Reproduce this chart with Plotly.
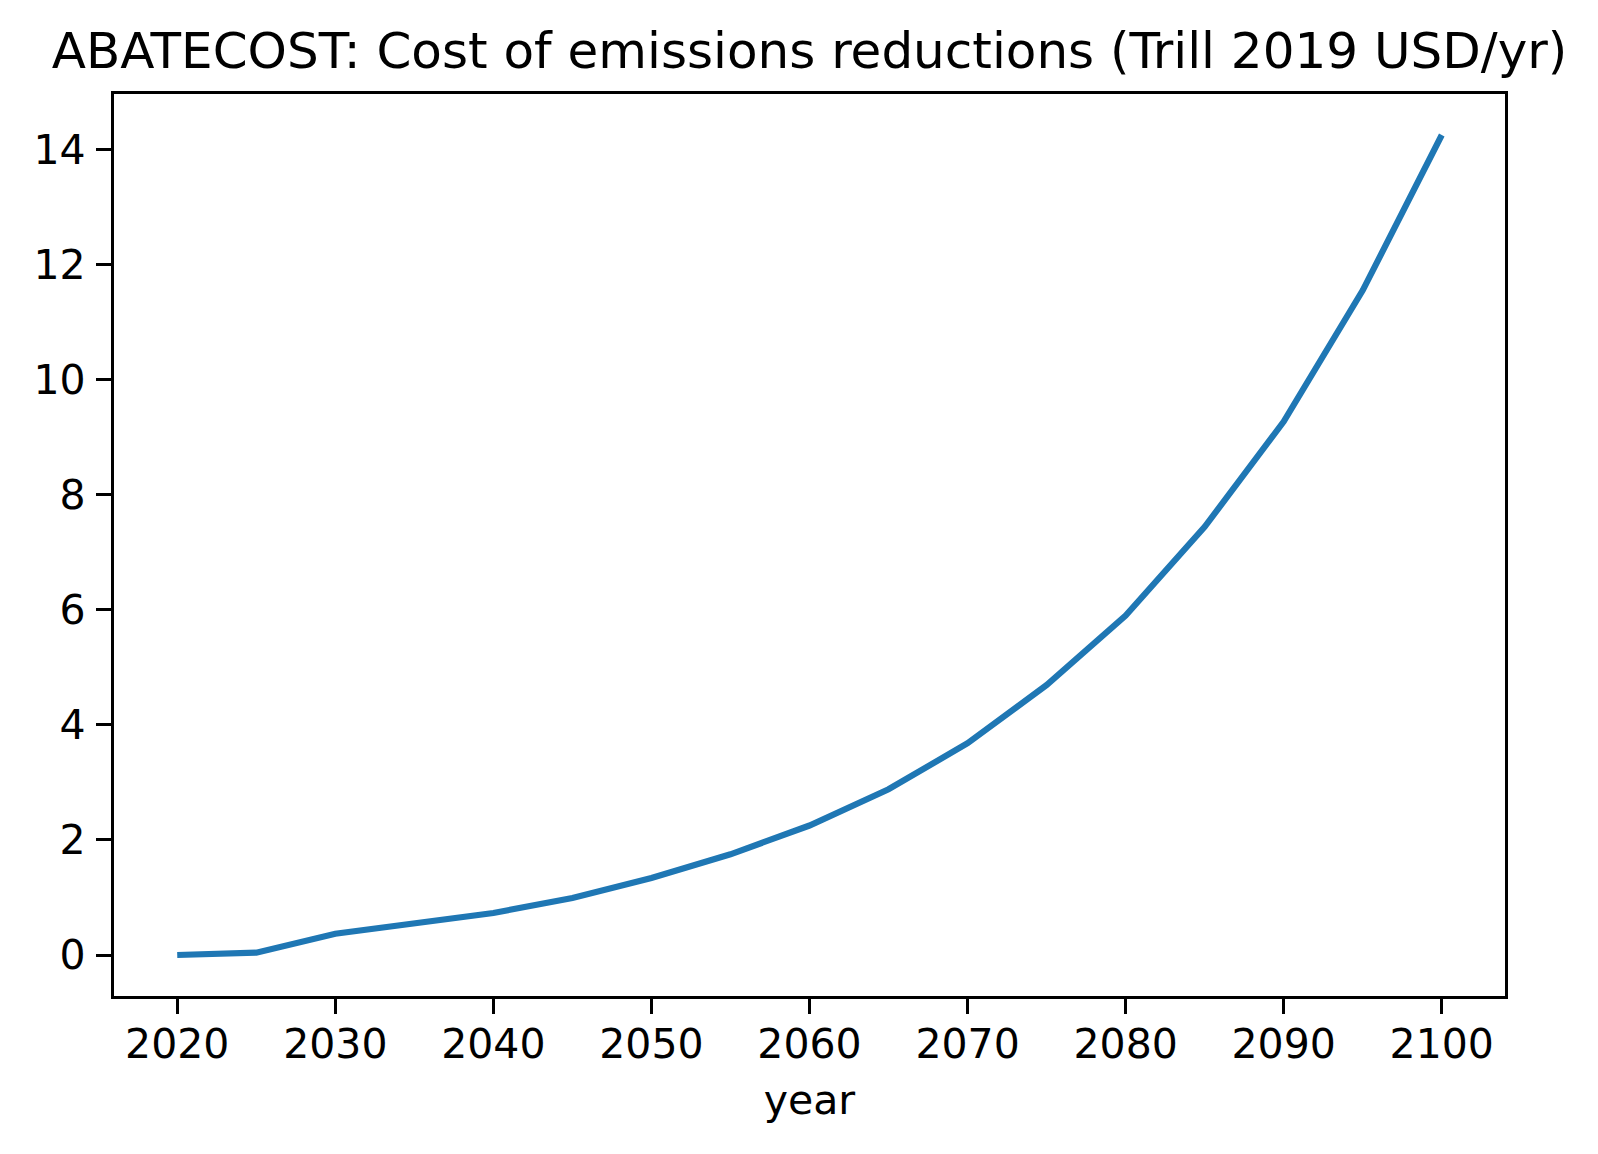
import plotly.graph_objects as go

# ABATECOST values
years = [2020, 2025, 2030, 2035, 2040, 2045, 2050, 2055, 2060,
         2065, 2070, 2075, 2080, 2085, 2090, 2095, 2100]
abatecost = [0.0, 0.04, 0.37, 0.55, 0.73, 0.99, 1.34, 1.75, 2.25,
             2.88, 3.68, 4.69, 5.90, 7.44, 9.27, 11.55, 14.25]
x_ticks = [2020, 2030, 2040, 2050, 2060, 2070, 2080, 2090, 2100]
y_ticks = [0, 2, 4, 6, 8, 10, 12, 14]

fig = go.Figure(go.Scatter(x=years, y=abatecost, mode="lines",
                           line=dict(color="#1f77b4", width=6.2)))

axis_style = dict(showline=True, linecolor="black", linewidth=3.3, mirror=True,
                  ticks="outside", ticklen=15, tickwidth=3.3, tickcolor="black",
                  showgrid=False, zeroline=False,
                  tickfont=dict(family="DejaVu Sans", size=41, color="black"))

# the page body adds an 8px margin, so the figure is 8px smaller each way
W, H = 1590, 1146
ymax = max(abatecost)  # matplotlib-like 5% padding
fig.update_layout(
    width=W, height=H,
    margin=dict(l=105.5, r=92.5, t=86, b=158),
    paper_bgcolor="white", plot_bgcolor="white",
    showlegend=False,
    font=dict(family="DejaVu Sans", color="black"),
    title=dict(text="ABATECOST: Cost of emissions reductions (Trill 2019 USD/yr)",
               x=0.5, xref="paper", xanchor="center",
               y=1 - 42.5 / H, yref="container", yanchor="middle",
               font=dict(size=50, family="DejaVu Sans", color="black")),
)
fig.update_xaxes(range=[2016, 2104], tickvals=x_ticks, ticklabelstandoff=-5,
                 title=dict(text="year", font=dict(size=41), standoff=18),
                 **axis_style)
fig.update_yaxes(range=[-0.05 * ymax, 1.05 * ymax], tickvals=y_ticks,
                 ticklabelstandoff=2, **axis_style)

fig.write_html("out.html")
